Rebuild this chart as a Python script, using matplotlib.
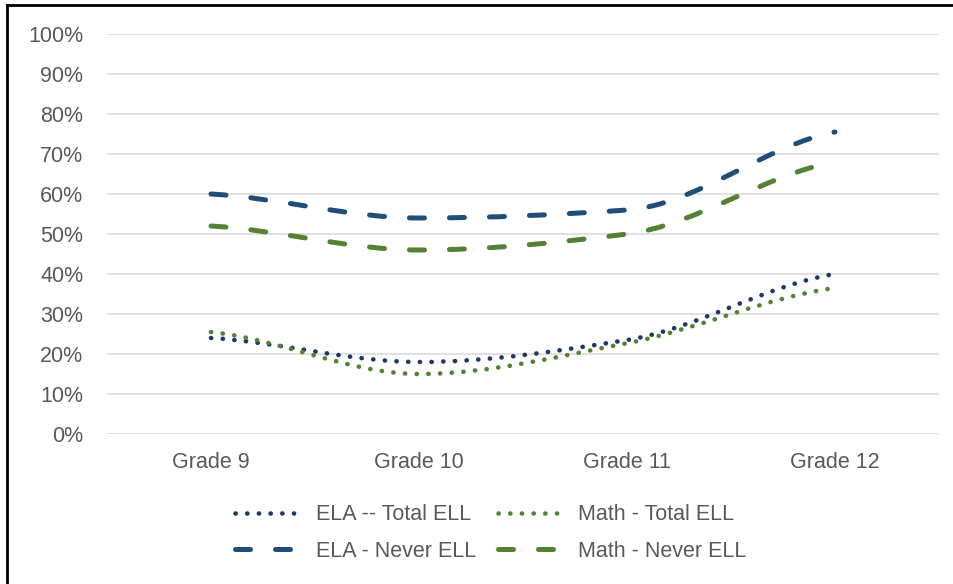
import matplotlib
matplotlib.use("Agg")
import matplotlib.pyplot as plt
import numpy as np
from matplotlib.path import Path
from matplotlib.patches import PathPatch
from matplotlib.lines import Line2D
from matplotlib.ticker import FuncFormatter

# Data
grades = ["Grade 9", "Grade 10", "Grade 11", "Grade 12"]
ela_total = [24.0, 18.0, 23.5, 40.0]
math_total = [25.5, 15.0, 22.7, 36.5]
ela_never = [60.0, 54.0, 56.0, 75.5]
math_never = [52.0, 46.0, 50.0, 68.0]
labels = ["ELA -- Total ELL", "Math - Total ELL", "ELA - Never ELL", "Math - Never ELL"]

BLUE_DOT = "#203864"
BLUE_DASH = "#1F4E79"
GREEN = "#548235"
TEXT = "#595959"

plt.rcParams['font.family'] = ['Liberation Sans', 'DejaVu Sans']


def smooth_path(x, y):
    """Smoothed line through the points as a cubic bezier path
    (monotone tangents, so the curve does not overshoot)."""
    x = np.asarray(x, float)
    y = np.asarray(y, float)
    n = len(x)
    h = np.diff(x)
    delta = np.diff(y) / h
    d = np.zeros(n)
    for i in range(1, n - 1):
        if delta[i - 1] * delta[i] > 0:
            d[i] = 2 * delta[i - 1] * delta[i] / (delta[i - 1] + delta[i])
    d[0] = delta[0] / 2
    d[-1] = delta[-1] / 2
    verts = [(x[0], y[0])]
    codes = [Path.MOVETO]
    for i in range(n - 1):
        verts.append((x[i] + h[i] / 3, y[i] + d[i] * h[i] / 3))
        verts.append((x[i + 1] - h[i] / 3, y[i + 1] - d[i + 1] * h[i] / 3))
        verts.append((x[i + 1], y[i + 1]))
        codes += [Path.CURVE4] * 3
    return Path(verts, codes)


fig = plt.figure(figsize=(9.54, 5.84), dpi=100)
ax = fig.add_axes([107 / 954, 150 / 584, 832 / 954, 400 / 584])

xs = np.arange(len(grades))
dot_style = (0, (0.05, 2.5))
dash_style = (0, (3.0, 5.0))
series = [
    (ela_total, BLUE_DOT, 3.3, dot_style),
    (math_total, GREEN, 3.3, dot_style),
    (ela_never, BLUE_DASH, 3.6, dash_style),
    (math_never, GREEN, 3.6, dash_style),
]

handles = []
for vals, color, lw, ls in series:
    patch = PathPatch(smooth_path(xs, vals), facecolor="none", edgecolor=color,
                      linewidth=lw, linestyle=ls, capstyle="round", zorder=3)
    ax.add_patch(patch)
    handles.append(Line2D([], [], color=color, linewidth=lw, linestyle=ls,
                          dash_capstyle="round", solid_capstyle="round"))

ax.set_xlim(-0.5, len(grades) - 0.5)
ax.set_ylim(0, 100)
ax.set_yticks(np.arange(0, 101, 10))
ax.yaxis.set_major_formatter(FuncFormatter(lambda v, p: "%d%%" % v))
ax.set_xticks(xs)
ax.set_xticklabels(grades)
ax.tick_params(axis="both", length=0, labelsize=15.5, colors=TEXT)
ax.tick_params(axis="y", pad=17)
ax.tick_params(axis="x", pad=13)
ax.grid(axis="y", color="#D9D9D9", linewidth=1.1)
ax.set_axisbelow(True)
for s in ax.spines.values():
    s.set_visible(False)

# legend is filled column by column: put ELA in column one, Math in column two
order = [0, 2, 1, 3]
fig.legend([handles[i] for i in order], [labels[i] for i in order],
           loc="center", bbox_to_anchor=(491 / 954, 1 - 533 / 584),
           ncol=2, frameon=False, fontsize=15.5, labelcolor=TEXT,
           handlelength=3.2, handletextpad=0.55, columnspacing=1.0,
           labelspacing=0.7)

# outer border (top and left visible in the reference)
fig.add_artist(Line2D([7 / 954, 1.0], [1 - 5 / 584, 1 - 5 / 584], color="black",
                      linewidth=2.0, transform=fig.transFigure))
fig.add_artist(Line2D([7 / 954, 7 / 954], [0.0, 1 - 5 / 584], color="black",
                      linewidth=2.0, transform=fig.transFigure))

fig.savefig("out.png", dpi=100)
